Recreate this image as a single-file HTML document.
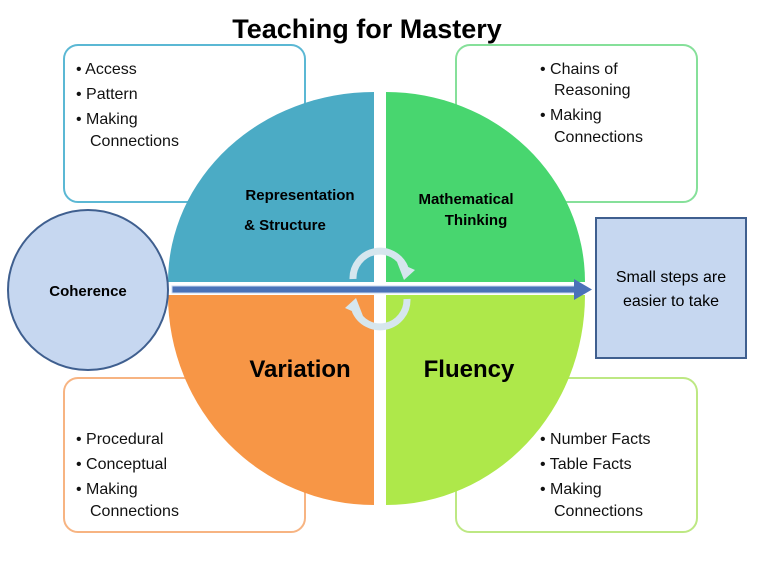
<!DOCTYPE html>
<html><head><meta charset="utf-8"><style>
body{margin:0;width:765px;height:567px;background:#fff;overflow:hidden;font-family:"Liberation Sans",sans-serif}
svg{position:absolute;left:0;top:0}
</style></head><body>
<svg width="765" height="567" viewBox="0 0 765 567">
<text x="367" y="38" text-anchor="middle" font-size="27" font-weight="bold" fill="#000">Teaching for Mastery</text>
<g fill="#fff" stroke-width="2">
<rect x="64" y="45" width="241" height="157" rx="14" stroke="#5bb8d4"/>
<rect x="456" y="45" width="241" height="157" rx="14" stroke="#86e09a"/>
<rect x="64" y="378" width="241" height="154" rx="14" stroke="#f7b482"/>
<rect x="456" y="378" width="241" height="154" rx="14" stroke="#bde883"/>
</g>
<path d="M374 282 L168 282 A206 190 0 0 1 374 92 Z" fill="#4babc5"/>
<path d="M386 282 L386 92 A199 190 0 0 1 585 282 Z" fill="#48d66f"/>
<path d="M374 295 L374 505 A206 210 0 0 1 168 295 Z" fill="#f79646"/>
<path d="M386 295 L585 295 A199 210 0 0 1 386 505 Z" fill="#aee84a"/>
<circle cx="88" cy="290" r="80" fill="#c6d7f0" stroke="#3f5f8f" stroke-width="2"/>
<rect x="596" y="218" width="150" height="140" fill="#c6d7f0" stroke="#3f5f8f" stroke-width="2"/>
<g fill="none" stroke="#d6e6ee" stroke-width="7">
<path d="M353 279 A27 27 0 0 1 405 268"/>
<path d="M407 299 A27 27 0 0 1 355 310"/>
</g>
<polygon points="397,262 415,270 404,280" fill="#d6e6ee"/>
<polygon points="363,316 345,308 356,298" fill="#d6e6ee"/>
<rect x="172" y="286" width="405" height="7" fill="#4a72b8" stroke="#c8d8f0" stroke-width="1"/>
<polygon points="574,279 592,289.5 574,300" fill="#4a72b8"/>
<g font-weight="bold" fill="#000" text-anchor="middle">
<text x="88" y="296" font-size="15">Coherence</text>
<text x="300" y="200" font-size="15">Representation</text>
<text x="285" y="230" font-size="15">&amp; Structure</text>
<text x="466" y="204" font-size="15">Mathematical</text>
<text x="476" y="225" font-size="15">Thinking</text>
<text x="300" y="377" font-size="24">Variation</text>
<text x="469" y="377" font-size="24">Fluency</text>
</g>
<g font-size="16" fill="#000" text-anchor="middle">
<text x="671" y="282">Small steps are</text>
<text x="671" y="306">easier to take</text>
</g>
<g font-size="16" fill="#111">
<text x="76" y="74">• Access</text>
<text x="76" y="99">• Pattern</text>
<text x="76" y="124">• Making</text>
<text x="90" y="146">Connections</text>
<text x="540" y="74">• Chains of</text>
<text x="554" y="95">Reasoning</text>
<text x="540" y="120">• Making</text>
<text x="554" y="142">Connections</text>
<text x="76" y="444">• Procedural</text>
<text x="76" y="469">• Conceptual</text>
<text x="76" y="494">• Making</text>
<text x="90" y="516">Connections</text>
<text x="540" y="444">• Number Facts</text>
<text x="540" y="469">• Table Facts</text>
<text x="540" y="494">• Making</text>
<text x="554" y="516">Connections</text>
</g>
</svg>
</body></html>
